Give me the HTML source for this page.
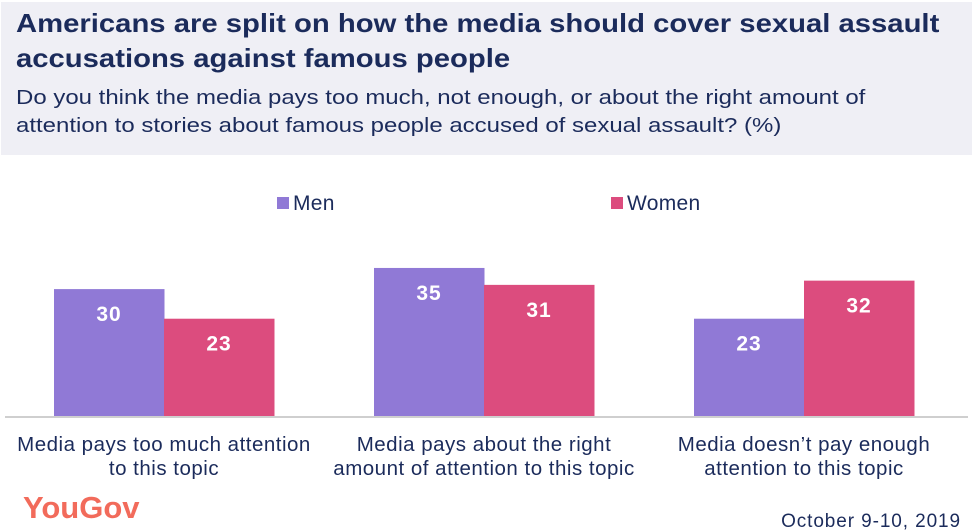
<!DOCTYPE html>
<html><head><meta charset="utf-8"><style>
body{margin:0;width:974px;height:531px;background:#fff;font-family:"Liberation Sans",sans-serif;overflow:hidden;position:relative}
#hdr{position:absolute;left:1px;top:2px;width:971px;height:153px;background:#efeff5}
.t{position:absolute;left:16px;color:#1b2b5b;font-weight:bold;font-size:26px;line-height:35px;top:6px;white-space:nowrap;transform:scaleX(1.125);transform-origin:0 0}
.s{position:absolute;left:16px;top:84px;color:#1b2b5b;font-size:20.5px;line-height:28px;white-space:nowrap;transform:scaleX(1.17);transform-origin:0 0}
</style></head><body>
<div id="hdr"></div>
<div class="t">Americans are split on how the media should cover sexual assault<br>accusations against famous people</div>
<div class="s">Do you think the media pays too much, not enough, or about the right amount of<br>attention to stories about famous people accused of sexual assault? (%)</div>
<svg id="c" width="974" height="531" style="position:absolute;left:0;top:0"></svg>
<script>
const categories=[["Media pays too much attention","to this topic"],["Media pays about the right","amount of attention to this topic"],["Media doesn\u2019t pay enough","attention to this topic"]];
const menValues=[30,35,23];
const womenValues=[23,31,32];
const seriesNames=["Men","Women"];
const colors=["#9079d6","#dc4c7e"];
const svg=document.getElementById('c');
const NS="http://www.w3.org/2000/svg";
const base=416,scale=4.23;
function y(v){return base-v*scale;}
function cx(i){return 164+i*320;}
function mk(t,a){const e=document.createElementNS(NS,t);for(const k in a)e.setAttribute(k,a[k]);svg.appendChild(e);return e;}
const ax=mk('line',{x1:5,x2:968,y1:417,y2:417,stroke:'#cfcfcf','stroke-width':2});


[menValues,womenValues].forEach((vals,s)=>{
 vals.forEach((v,i)=>{
  const x=cx(i)-110+s*110;
  const r=mk('rect',{x:x,y:y(v),width:110.5,height:base-y(v),fill:colors[s]});
  
  
  const t=mk('text',{x:x+55,y:y(v)+32,'text-anchor':'middle',fill:'#fff','font-size':21,'font-weight':'bold','letter-spacing':1});
  t.textContent=v;
  
  
 });
});
categories.forEach((c,i)=>{
 c.forEach((ln,j)=>{
  const t=mk('text',{x:cx(i),y:451+j*24,'text-anchor':'middle',fill:'#1b2b5b','font-size':20.5,'letter-spacing':0.5});
  t.textContent=ln;
  
  
 });
});
const lx=[277,611];
seriesNames.forEach((n,s)=>{
 const r=mk('rect',{x:lx[s],y:197,width:12,height:12,fill:colors[s]});
 
 
 const t=mk('text',{x:lx[s]+16,y:210,fill:'#1b2b5b','font-size':21,'letter-spacing':0.3});
 t.textContent=n;
 
 
});
const lg=mk('text',{x:23,y:518,fill:'#f26b5b','font-size':31,'font-weight':'bold'});
lg.textContent='YouGov';


const dt=mk('text',{x:961,y:527,'text-anchor':'end',fill:'#1b2b5b','font-size':19,'letter-spacing':0.9});
dt.textContent='October 9-10, 2019';


</script>
</body></html>
